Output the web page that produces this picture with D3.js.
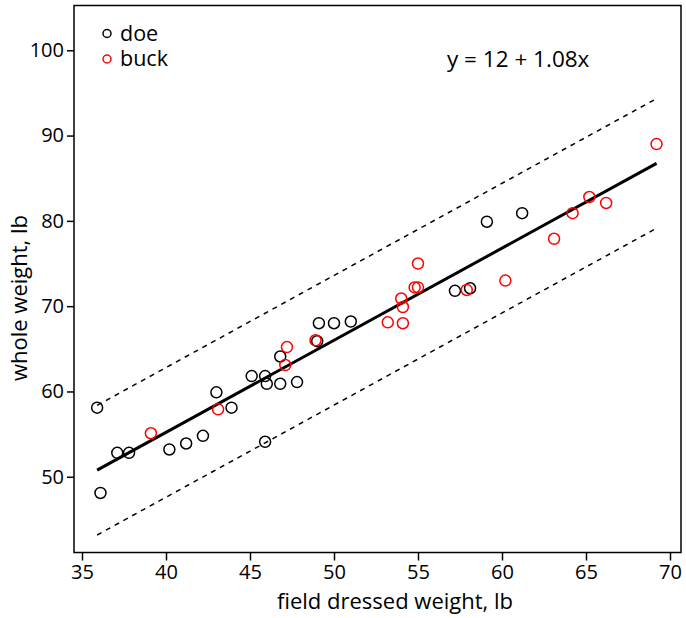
<!DOCTYPE html>
<html>
<head>
<meta charset="utf-8">
<script src="https://cdn.jsdelivr.net/npm/d3@7"></script>
<style>
  body { margin: 0; background: #fff; }
  svg { display: block; font-family: "Open Sans", sans-serif; }
  .frame { fill: none; stroke: #000; stroke-width: 1.5; }
  .axis path { display: none; }
  .axis line { stroke: #000; stroke-width: 1.5; }
  .axis text { font-size: 20px; fill: #000; font-family: "Open Sans", sans-serif; }
</style>
</head>
<body>
<script>
// field dressed vs whole weight of deer, lb
var doeX = [35.9, 36.1, 37.1, 37.8, 40.2, 41.2, 42.2, 43.0, 43.9, 45.1, 45.9, 46.0,
            45.9, 46.8, 46.8, 47.8, 49.0, 49.1, 50.0, 51.0, 57.2, 58.1, 59.1, 61.2];
var doeY = [58.1, 48.1, 52.8, 52.8, 53.2, 53.9, 54.8, 59.9, 58.1, 61.8, 61.8, 60.9,
            54.1, 60.9, 64.1, 61.1, 65.9, 68.0, 68.0, 68.2, 71.8, 72.1, 79.9, 80.9];
var buckX = [39.1, 43.1, 47.2, 47.1, 48.9, 53.2, 54.1, 54.0, 54.1, 54.8, 55.0, 55.0,
             57.9, 60.2, 63.1, 64.2, 65.2, 66.2, 69.2];
var buckY = [55.1, 57.9, 65.2, 63.1, 66.0, 68.1, 68.0, 70.9, 69.9, 72.2, 72.2, 75.0,
             71.9, 73.0, 77.9, 80.9, 82.8, 82.1, 89.0];
var fitA = 12, fitB = 1.08;      // y = a + b x
var predHalf = 7.6;              // half width of prediction band
var xTicks = [35, 40, 45, 50, 55, 60, 65, 70];
var yTicks = [50, 60, 70, 80, 90, 100];
var groups = ["doe", "buck"];
var colors = ["#000000", "#ff0000"];

var width = 686, height = 618;
var plotL = 74, plotR = 681, plotT = 5.5, plotB = 552.5;

var svg = d3.select("body").append("svg")
    .attr("width", width)
    .attr("height", height);

var x = d3.scaleLinear().domain([34.524, 70.655]).range([plotL, plotR]);
var y = d3.scaleLinear().domain([41.12, 105.25]).range([plotB, plotT]);

// axes
svg.append("g")
    .attr("class", "axis")
    .attr("transform", "translate(0," + plotB + ")")
    .call(d3.axisBottom(x).tickValues(xTicks).tickSize(8).tickPadding(4).tickFormat(d3.format("d")));

svg.append("g")
    .attr("class", "axis")
    .attr("transform", "translate(" + plotL + ",0)")
    .call(d3.axisLeft(y).tickValues(yTicks).tickSize(7).tickPadding(3).tickFormat(d3.format("d")));

svg.append("rect")
    .attr("class", "frame")
    .attr("x", plotL).attr("y", plotT)
    .attr("width", plotR - plotL).attr("height", plotB - plotT);

// regression + prediction lines
var allX = doeX.concat(buckX);
var ext = d3.extent(allX);
var line = d3.line().x(function(d){ return x(d[0]); }).y(function(d){ return y(d[1]); });

function fitPts(off){
    return ext.map(function(v){ return [v, fitA + fitB * v + off]; });
}

svg.append("path").datum(fitPts(0))
    .attr("d", line).attr("fill", "none")
    .attr("stroke", "#000").attr("stroke-width", 3);

[predHalf, -predHalf].forEach(function(off){
    svg.append("path").datum(fitPts(off))
        .attr("d", line).attr("fill", "none")
        .attr("stroke", "#000").attr("stroke-width", 1.5)
        .attr("stroke-dasharray", "5,5");
});

// points
function drawPts(xs, ys, col){
    svg.append("g").selectAll("circle")
        .data(d3.zip(xs, ys))
        .enter().append("circle")
        .attr("cx", function(d){ return x(d[0]); })
        .attr("cy", function(d){ return y(d[1]); })
        .attr("r", 5.5)
        .attr("fill", "none")
        .attr("stroke", col)
        .attr("stroke-width", 1.5);
}
drawPts(doeX, doeY, colors[0]);
drawPts(buckX, buckY, colors[1]);

// legend
var leg = svg.append("g").selectAll("g")
    .data(groups)
    .enter().append("g")
    .attr("transform", function(d, i){ return "translate(107," + (33.5 + i * 25.5) + ")"; });
leg.append("circle")
    .attr("r", 4).attr("fill", "none")
    .attr("stroke", function(d, i){ return colors[i]; })
    .attr("stroke-width", 1.5);
leg.append("text")
    .attr("x", 13).attr("y", 7)
    .attr("font-size", "21.5px")
    .text(function(d){ return d; });

svg.append("text")
    .attr("x", 447).attr("y", 67)
    .attr("font-size", "22.5px")
    .text("y = " + fitA + " + " + fitB.toFixed(2) + "x");

// axis titles
svg.append("text")
    .attr("x", 395).attr("y", 609)
    .attr("text-anchor", "middle")
    .attr("font-size", "22px")
    .text("field dressed weight, lb");

svg.append("text")
    .attr("transform", "translate(27,298) rotate(-90)")
    .attr("text-anchor", "middle")
    .attr("font-size", "22px")
    .text("whole weight, lb");
</script>
</body>
</html>
